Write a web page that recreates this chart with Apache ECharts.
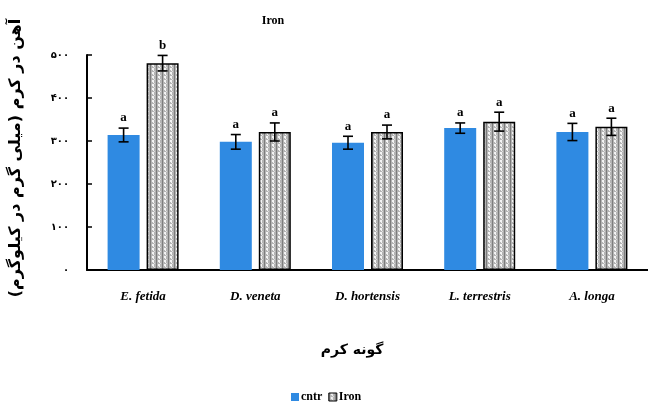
<!DOCTYPE html>
<html>
<head>
<meta charset="utf-8">
<script src="https://cdn.jsdelivr.net/npm/echarts@6/dist/echarts.min.js"></script>
<style>
  html, body { margin: 0; padding: 0; background: #fff; }
  #chart { width: 648px; height: 405px; }
</style>
</head>
<body>
<div id="chart"></div>
<script>
// Worm species on the category axis
const species = ['E. fetida', 'D. veneta', 'D. hortensis', 'L. terrestris', 'A. longa'];
// Mean iron content (mg/kg) per treatment
const cntrValues = [314, 298, 296, 330, 321];
const ironValues = [481, 321, 321, 345, 333];
// Standard errors
const cntrErr = [16, 17, 15, 12, 20];
const ironErr = [18, 21, 16, 22, 20];
// Significance letters
const cntrSig = ['a', 'a', 'a', 'a', 'a'];
const ironSig = ['b', 'a', 'a', 'a', 'a'];
// Persian tick labels for the value axis
const yTickLabels = ['۰', '۱۰۰', '۲۰۰', '۳۰۰', '۴۰۰', '۵۰۰'];

const BAR_W = 32;
const GAP = 7;

// Dotted grey fill for the Iron bars
function makePattern() {
  const c = document.createElement('canvas');
  c.width = 6; c.height = 4;
  const g = c.getContext('2d');
  g.fillStyle = '#b4b4b4';
  g.fillRect(0, 0, 6, 4);
  g.fillStyle = '#7c7c7c';
  g.fillRect(0, 0, 1, 4);
  g.fillStyle = '#f4f4f4';
  g.fillRect(2, 0, 2, 2);
  g.fillRect(3, 2, 1, 1);
  g.fillStyle = '#dcdcdc';
  g.fillRect(4, 3, 1, 1);
  return c;
}
const ironFill = { image: makePattern(), repeat: 'repeat' };

function errorSeries(values, errs, sig, side) {
  return {
    type: 'custom',
    silent: true,
    z: 5,
    data: values.map((v, i) => [i, v, errs[i], sig[i]]),
    renderItem: function (params, api) {
      const i = api.value(0);
      const v = api.value(1);
      const e = api.value(2);
      const center = api.coord([i, v]);
      const x = center[0] + side * (BAR_W + GAP) / 2;
      const hi = api.coord([i, v + e])[1];
      const lo = api.coord([i, v - e])[1];
      const cap = 5;
      const style = { stroke: '#000', lineWidth: 1.6 };
      return {
        type: 'group',
        children: [
          { type: 'line', shape: { x1: x, y1: hi, x2: x, y2: lo }, style: style },
          { type: 'line', shape: { x1: x - cap, y1: hi, x2: x + cap, y2: hi }, style: style },
          { type: 'line', shape: { x1: x - cap, y1: lo, x2: x + cap, y2: lo }, style: style },
          {
            type: 'text',
            style: {
              text: sig[params.dataIndex],
              x: x, y: hi - 10,
              textAlign: 'center', textVerticalAlign: 'middle',
              font: 'bold 13px "Liberation Serif"', fill: '#000'
            }
          }
        ]
      };
    }
  };
}

const chart = echarts.init(document.getElementById('chart'), null, { renderer: 'canvas' });
chart.setOption({
  animation: false,
  backgroundColor: '#fff',
  title: {
    text: 'Iron',
    left: 268, top: 10,
    textAlign: 'center',
    textStyle: { fontFamily: 'Liberation Serif', fontWeight: 'bold', fontSize: 12, color: '#000' }
  },
  legend: {
    left: 286, top: 386,
    itemWidth: 8, itemHeight: 8, itemGap: 6,
    data: [
      { name: 'cntr', icon: 'rect' },
      { name: 'Iron', icon: 'rect', itemStyle: { borderColor: '#000', borderWidth: 1 } }
    ],
    textStyle: { fontFamily: 'Liberation Serif', fontWeight: 'bold', fontSize: 12, color: '#000', padding: [0, 0, 0, -3] }
  },
  grid: { left: 87, top: 55, width: 565, height: 215, containLabel: false },
  xAxis: {
    type: 'category',
    data: species,
    axisLine: { lineStyle: { color: '#000', width: 2 } },
    axisTick: { show: false },
    axisLabel: {
      margin: 20,
      fontFamily: 'Liberation Serif', fontStyle: 'italic', fontWeight: 'bold',
      fontSize: 13, color: '#000'
    }
  },
  yAxis: {
    type: 'value',
    min: 0, max: 500, interval: 100,
    splitLine: { show: false },
    axisLine: { show: true, lineStyle: { color: '#000', width: 2 } },
    axisTick: { show: true, inside: true, length: 5, lineStyle: { color: '#000', width: 1.5 } },
    axisLabel: {
      margin: 18,
      fontFamily: 'DejaVu Sans', fontWeight: 'bold', fontSize: 10, color: '#000',
      formatter: function (v) { return yTickLabels[Math.round(v / 100)]; }
    }
  },
  graphic: [
    {
      type: 'text',
      x: 16, y: 158,
      rotation: Math.PI / 2,
      style: {
        text: 'آهن در کرم (میلی گرم در کیلوگرم)',
        font: 'bold 16px "DejaVu Sans"', fill: '#000',
        textAlign: 'center', textVerticalAlign: 'middle'
      }
    },
    {
      type: 'text',
      x: 352, y: 350,
      style: {
        text: 'گونه کرم',
        font: 'bold 14px "DejaVu Sans"', fill: '#000',
        textAlign: 'center', textVerticalAlign: 'middle'
      }
    }
  ],
  series: [
    {
      name: 'cntr', type: 'bar', data: cntrValues,
      barWidth: BAR_W, barGap: (GAP / BAR_W * 100) + '%',
      itemStyle: { color: '#2f8ae2' }
    },
    {
      name: 'Iron', type: 'bar', data: ironValues,
      barWidth: BAR_W,
      itemStyle: { color: ironFill, borderColor: '#000', borderWidth: 1.5 }
    },
    errorSeries(cntrValues, cntrErr, cntrSig, -1),
    errorSeries(ironValues, ironErr, ironSig, 1)
  ]
});
</script>
</body>
</html>
